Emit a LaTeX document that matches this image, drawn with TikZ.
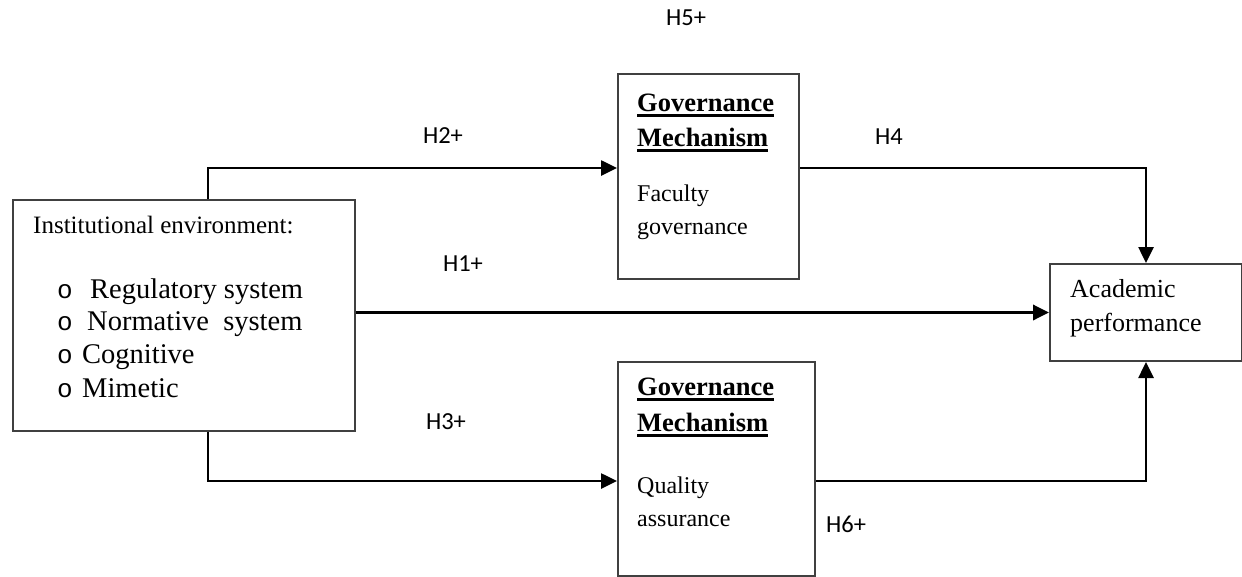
\documentclass[tikz,border=0pt]{standalone}
\usepackage{fontspec}
\setmainfont{Liberation Serif}
\newfontfamily\lblfont{Carlito}
\newfontfamily\bulfont{Liberation Mono}
\usetikzlibrary{arrows.meta}
\newcommand\ulword[1]{\leavevmode\setbox0\hbox{#1}\rlap{\copy0}\rule[-6pt]{\wd0}{2.8pt}}
\begin{document}
\begin{tikzpicture}[x=1pt,y=-1pt,
  box/.style={draw=black!75, line width=2pt, inner sep=0pt, anchor=north west},
  arr/.style={draw=black, line width=2.6pt, -{Triangle[length=16pt,width=15pt]}},
  txt/.style={anchor=base west, inner sep=0pt, font=\fontsize{24}{28}\selectfont},
  itm/.style={anchor=base west, inner sep=0pt, font=\fontsize{28.5}{33}\selectfont},
  hd/.style={anchor=base west, inner sep=0pt, font=\fontsize{26.5}{30}\selectfont\bfseries},
  lbl/.style={anchor=center, inner sep=0pt, font=\fontsize{24.5}{28}\selectfont\lblfont}
]
\useasboundingbox (0,0) rectangle (1242,576);

% boxes
\node[box, minimum width=342pt, minimum height=231pt] (inst) at (12,199) {};
\node[box, minimum width=181pt, minimum height=205pt] (gov1) at (617,73) {};
\node[box, minimum width=197pt, minimum height=214pt] (gov2) at (617,361) {};
\node[box, minimum width=192pt, minimum height=97pt] (acad) at (1049,263) {};

% texts of the left box
\node[txt, font=\fontsize{25}{29}\selectfont] (t0) at (33,233) {Institutional environment:};
\node[itm] (t1) at (57,298) {\makebox[33pt][l]{\bulfont\fontsize{26}{30}\selectfont o}Regulatory system};
\node[itm] (t2) at (57,330) {\makebox[30pt][l]{\bulfont\fontsize{26}{30}\selectfont o}Normative\ \ system};
\node[itm] (t3) at (57,363) {\makebox[25pt][l]{\bulfont\fontsize{26}{30}\selectfont o}Cognitive};
\node[itm] (t4) at (57,397) {\makebox[25pt][l]{\bulfont\fontsize{26}{30}\selectfont o}Mimetic};

% texts of the upper box
\node[hd] (g1a) at (637,111) {\ulword{Governance}};
\node[hd] (g1b) at (637,146) {\ulword{Mechanism}};
\node[txt] (g1c) at (637,201) {Faculty};
\node[txt] (g1d) at (637,234) {governance};

% texts of the lower box
\node[hd] (g2a) at (637,395) {\ulword{Governance}};
\node[hd] (g2b) at (637,431) {\ulword{Mechanism}};
\node[txt] (g2c) at (637,493) {Quality};
\node[txt] (g2d) at (637,526) {assurance};

% academic
\node[txt, font=\fontsize{26}{30}\selectfont] (a1) at (1070,297) {Academic};
\node[txt, font=\fontsize{26}{30}\selectfont] (a2) at (1070,331) {performance};

% connectors
\draw[arr] ([xshift=196pt]inst.north west) |- ([yshift=-95pt]gov1.north west);
\draw[arr] ([xshift=196pt]inst.south west) |- ([yshift=-120pt]gov2.north west);
\draw[arr, line width=3.4pt] (inst.east |- acad.west) -- (acad.west);
\draw[arr] ([yshift=-95pt]gov1.north east) -| (acad.north);
\draw[arr] ([yshift=-120pt]gov2.north east) -| (acad.south);

% labels
\node[lbl] (h1) at (463,264) {H1+};
\node[lbl] (h2) at (443,136) {H2+};
\node[lbl] (h3) at (446,422) {H3+};
\node[lbl] (h4) at (889,137) {H4};
\node[lbl] (h5) at (686,18) {H5+};
\node[lbl] (h6) at (846,524) {H6+};
\end{tikzpicture}
\end{document}
